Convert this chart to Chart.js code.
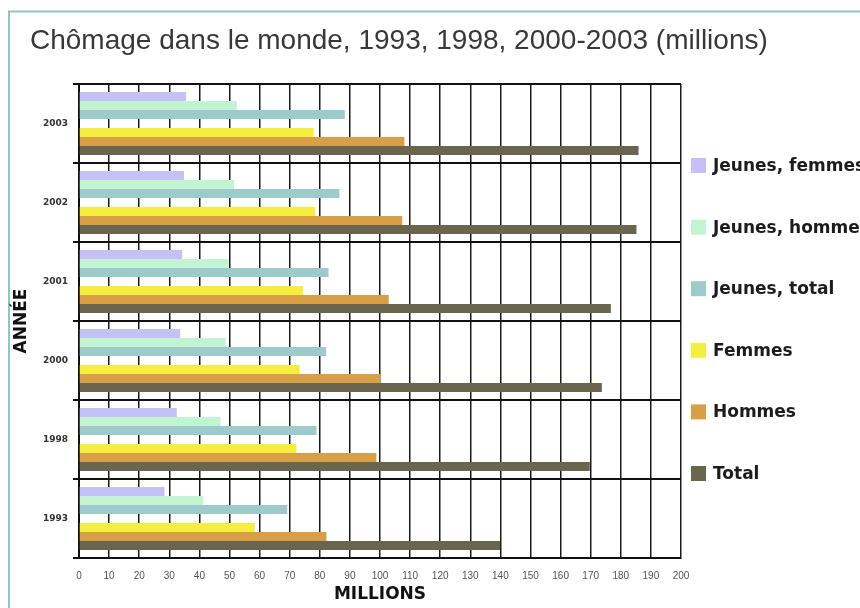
<!DOCTYPE html>
<html>
<head>
<meta charset="utf-8">
<script src="https://cdn.jsdelivr.net/npm/chart.js@4"></script>
<style>
  html, body { margin: 0; padding: 0; background: #ffffff; }
  #wrap { width: 860px; height: 608px; }
</style>
</head>
<body>
<div id="wrap"><canvas id="c" width="860" height="608"></canvas></div>
<script>
// ---- Data (millions) ----
const years = ['2003', '2002', '2001', '2000', '1998', '1993'];
const jeunesFemmes = [35.6, 34.9, 34.3, 33.6, 32.5, 28.4];
const jeunesHommes = [52.4, 51.5, 49.7, 48.7, 47.0, 41.3];
const jeunesTotal  = [88.3, 86.5, 82.9, 82.1, 78.9, 69.2];
const femmes       = [78.0, 78.5, 74.5, 73.3, 72.2, 58.4];
const hommes       = [108.1, 107.4, 102.9, 100.2, 98.8, 82.2];
const total        = [185.9, 185.2, 176.7, 173.7, 169.7, 139.9];
const seriesNames  = ['Jeunes, femmes', 'Jeunes, hommes', 'Jeunes, total', 'Femmes', 'Hommes', 'Total'];
const seriesColors = ['#c5c1f6', '#c1f5d1', '#9dcbcc', '#f6ee3e', '#d89f46', '#69654f'];
const titleText = 'Chômage dans le monde, 1993, 1998, 2000-2003 (millions)';
const xTitle = 'MILLIONS';
const yTitle = 'ANNÉE';

const seriesData = [jeunesFemmes, jeunesHommes, jeunesTotal, femmes, hommes, total];
const datasets = [];
seriesData.forEach((d, i) => {
  if (i === 3) {
    // empty spacer slot between youth and adult bars
    datasets.push({ label: '', data: years.map(() => null), backgroundColor: 'rgba(0,0,0,0)', spacer: true });
  }
  datasets.push({ label: seriesNames[i], data: d, backgroundColor: seriesColors[i], borderWidth: 0 });
});

const framePlugin = {
  id: 'frame',
  beforeDraw(chart) {
    const ctx = chart.ctx;
    ctx.save();
    ctx.fillStyle = '#ffffff';
    ctx.fillRect(0, 0, chart.width, chart.height);
    ctx.strokeStyle = '#8ec6c1';
    ctx.lineWidth = 2;
    ctx.beginPath();
    ctx.moveTo(9, chart.height);
    ctx.lineTo(9, 11.5);
    ctx.lineTo(chart.width, 11.5);
    ctx.stroke();
    // title
    ctx.fillStyle = '#383838';
    ctx.font = '28px "Liberation Sans", Arial, sans-serif';
    ctx.textBaseline = 'alphabetic';
    ctx.textAlign = 'left';
    ctx.fillText(titleText, 30, 48.5);
    ctx.restore();
  },
  afterDraw(chart) {
    const ctx = chart.ctx;
    const area = chart.chartArea;
    ctx.save();
    ctx.font = 'bold 17px "DejaVu Sans", sans-serif';
    ctx.textBaseline = 'middle';
    ctx.textAlign = 'left';
    let k = 0;
    chart.data.datasets.forEach(ds => {
      if (ds.spacer) return;
      const cy = 165.5 + k * 61.6;
      ctx.fillStyle = ds.backgroundColor;
      ctx.fillRect(area.right + 10, cy - 7.5, 15, 15);
      ctx.fillStyle = '#1c1c1c';
      ctx.fillText(ds.label, area.right + 32, cy + 1);
      k++;
    });
    ctx.restore();
  }
};

new Chart(document.getElementById('c'), {
  type: 'bar',
  data: { labels: years, datasets: datasets },
  plugins: [framePlugin],
  options: {
    indexAxis: 'y',
    responsive: false,
    animation: false,
    devicePixelRatio: 1,
    categoryPercentage: 0.8,
    barPercentage: 1.0,
    layout: { padding: { top: 84, right: 179, left: 0, bottom: 0 } },
    plugins: {
      legend: { display: false },
      title: { display: false },
      tooltip: { enabled: false }
    },
    scales: {
      x: {
        type: 'linear',
        min: 0,
        max: 200,
        ticks: {
          stepSize: 10,
          autoSkip: false,
          maxRotation: 0,
          color: '#555555',
          padding: 12,
          font: { size: 10, family: '"Liberation Sans", Arial, sans-serif' }
        },
        grid: { color: '#1a1a1a', lineWidth: 1.5, drawTicks: false },
        border: { display: true, color: '#111111', width: 2 },
        title: {
          display: true,
          text: xTitle,
          color: '#111111',
          font: { size: 17, weight: 'bold', family: '"DejaVu Sans", sans-serif' },
          padding: { top: 0, bottom: 3 }
        },
        afterFit(s) { s.height = 50; }
      },
      y: {
        type: 'category',
        ticks: {
          color: '#333333',
          padding: 5,
          font: { size: 9, weight: 'bold', family: '"DejaVu Sans", sans-serif' }
        },
        grid: { offset: true, color: '#111111', lineWidth: 2, tickLength: 6 },
        border: { display: true, color: '#111111', width: 2 },
        title: {
          display: true,
          text: yTitle,
          color: '#111111',
          font: { size: 17, weight: 'bold', family: '"DejaVu Sans", sans-serif' },
          padding: { top: 11, bottom: 0 }
        },
        afterFit(s) { s.width = 79; }
      }
    }
  }
});
</script>
</body>
</html>
